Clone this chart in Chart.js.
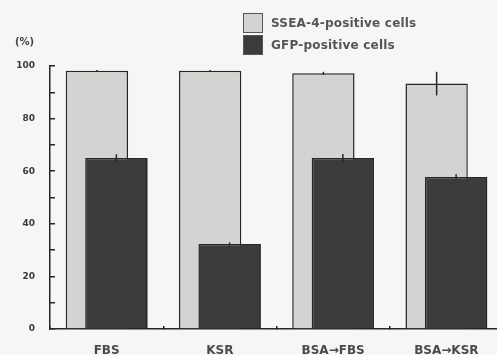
<!DOCTYPE html>
<html>
<head>
<meta charset="utf-8">
<script src="https://cdn.jsdelivr.net/npm/chart.js@4/dist/chart.umd.min.js"></script>
<style>
    html, body { margin: 0; padding: 0; background: #f6f6f4; overflow: hidden; }
    #wrap { position: relative; width: 506px; height: 355px; }
    #unit { position: absolute; left: 15px; top: 36px; font: bold 10px "DejaVu Sans", sans-serif; color: #444; }
    #legend { position: absolute; left: 243px; top: 12px; font: bold 12px "DejaVu Sans", sans-serif; color: #555; letter-spacing: 0.2px; }
    .item { display: flex; align-items: center; height: 22px; }
    .box { width: 20px; height: 20px; box-sizing: border-box; margin-right: 8px; border: 1.5px solid #555; }
</style>
</head>
<body>
<div id="wrap">
    <canvas id="cellChart" width="506" height="355"></canvas>
    <div id="unit">(%)</div>
    <div id="legend"></div>
</div>
<script>
const categories = ['FBS', 'KSR', 'BSA\u2192FBS', 'BSA\u2192KSR'];
const sseaValues = [98.2, 98.2, 97.2, 93.3];
const sseaErrors = [0.3, 0.3, 0.6, 4.5];
const gfpValues = [65.0, 32.3, 65.0, 57.8];
const gfpErrors = [1.4, 0.6, 1.5, 1.0];
const seriesNames = ['SSEA-4-positive cells', 'GFP-positive cells'];
const yTicks = [0, 20, 40, 60, 80, 100];

const lightFill = '#d3d3d1';
const darkFill = '#393c39';
const lineColor = '#262626';

// error bars + keep the dark bars above the light ones
const errorBarsPlugin = {
    id: 'errorBars',
    afterDatasetsDraw(chart) {
        const ctx = chart.ctx;
        chart.getDatasetMeta(1).controller.draw();
        const y = chart.scales.y;
        chart.data.datasets.forEach((ds, i) => {
            const meta = chart.getDatasetMeta(i);
            meta.data.forEach((bar, j) => {
                const err = ds.errors[j];
                ctx.save();
                ctx.strokeStyle = lineColor;
                ctx.lineWidth = 1.5;
                ctx.beginPath();
                ctx.moveTo(bar.x, y.getPixelForValue(ds.data[j] + err));
                ctx.lineTo(bar.x, y.getPixelForValue(ds.data[j] - err));
                ctx.stroke();
                ctx.restore();
            });
        });
    }
};

const chart = new Chart(document.getElementById('cellChart'), {
    type: 'bar',
    data: {
        labels: categories,
        datasets: [{
            label: seriesNames[0],
            data: sseaValues,
            errors: sseaErrors,
            backgroundColor: lightFill,
            borderColor: lineColor,
            borderWidth: 1.5,
            categoryPercentage: 0.344,
            barPercentage: 3.2
        }, {
            label: seriesNames[1],
            data: gfpValues,
            errors: gfpErrors,
            backgroundColor: darkFill,
            borderColor: lineColor,
            borderWidth: 1.5,
            categoryPercentage: 0.344,
            barPercentage: 3.2
        }]
    },
    options: {
        responsive: false,
        animation: false,
        layout: { padding: { top: 66, right: 3, left: 0, bottom: 0 } },
        plugins: {
            legend: { display: false },
            tooltip: { enabled: false }
        },
        scales: {
            y: {
                min: 0,
                max: 100,
                afterFit: s => { s.width = 50; },
                border: { color: lineColor, width: 1.5 },
                grid: { drawOnChartArea: false, tickLength: -5, color: lineColor, lineWidth: 1.5 },
                ticks: {
                    stepSize: 10,
                    padding: 20,
                    color: '#3a3a3a',
                    font: { family: 'DejaVu Sans', size: 9, weight: 'bold' },
                    callback: v => yTicks.includes(v) ? v : ''
                }
            },
            x: {
                afterFit: s => { s.height = 26; },
                border: { color: lineColor, width: 1.5 },
                grid: { drawOnChartArea: false, tickLength: -3, color: lineColor, lineWidth: 1.5 },
                ticks: {
                    padding: 18,
                    color: '#4a4a4a',
                    maxRotation: 0,
                    font: { family: 'DejaVu Sans', size: 12, weight: 'bold' }
                }
            }
        }
    },
    plugins: [errorBarsPlugin]
});

// legend, stacked like the original
const legend = document.getElementById('legend');
[lightFill, darkFill].forEach((c, i) => {
    const row = document.createElement('div');
    row.className = 'item';
    row.innerHTML = '<span class="box" style="background:' + c + '"></span><span>' + seriesNames[i] + '</span>';
    legend.appendChild(row);
});
</script>
</body>
</html>
